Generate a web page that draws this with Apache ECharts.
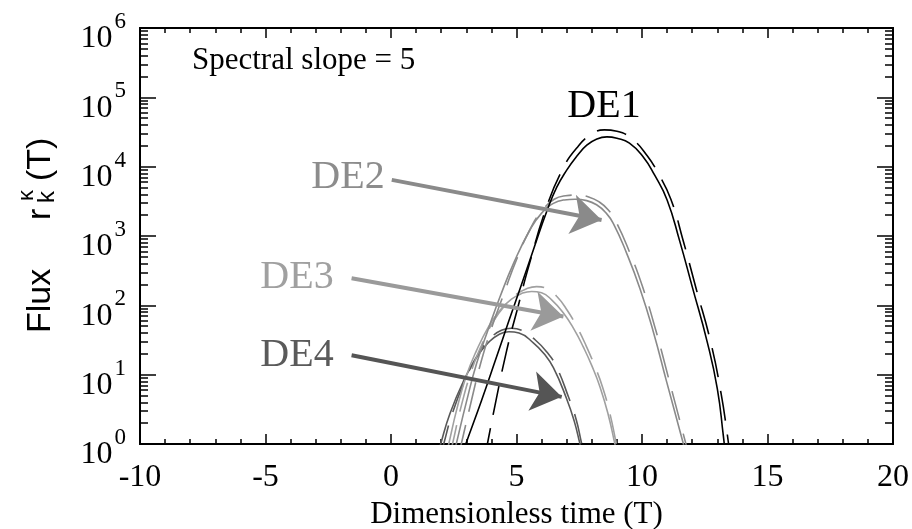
<!DOCTYPE html>
<html>
<head>
<meta charset="utf-8">
<script src="https://cdn.jsdelivr.net/npm/echarts@6/dist/echarts.min.js"></script>
<style>
html,body{margin:0;padding:0;background:#fff;}
#chart{width:912px;height:529px;}
</style>
</head>
<body>
<div id="chart"></div>
<script>
// dimensionless time T and log10(flux), one pair per curve
var tDE1 = [2.80, 2.98, 3.6, 4.2, 4.7, 5.2, 5.7, 6.2, 6.6, 7.0, 7.4, 7.8, 8.2, 8.6, 9.0, 9.5, 10.05, 10.5, 11.0, 11.5, 12.0, 12.6, 13.0, 13.24, 13.32];
var lgDE1 = [-0.19, 0, 0.62, 1.25, 1.78, 2.3, 2.83, 3.35, 3.7, 3.95, 4.15, 4.31, 4.4, 4.43, 4.41, 4.34, 4.14, 3.88, 3.52, 2.93, 2.27, 1.47, 0.8, 0.12, -0.15];
var tDE1d = [3.73, 3.84, 4.14, 4.61, 5.06, 5.5, 6.2, 6.86, 7.4, 8.0, 8.5, 9.0, 9.6, 10.2, 10.65, 11.15, 11.65, 12.15, 12.75, 13.15, 13.39, 13.48];
var lgDE1d = [-0.2, 0, 0.55, 1.35, 1.98, 2.58, 3.42, 3.98, 4.27, 4.47, 4.53, 4.51, 4.40, 4.16, 3.9, 3.53, 2.92, 2.25, 1.45, 0.73, 0.16, -0.1];

var tDE2 = [2.5, 2.6, 3.0, 3.41, 3.9, 4.34, 4.9, 5.54, 6.0, 6.47, 6.9, 7.33, 7.8, 8.19, 8.55, 8.86, 9.39, 9.92, 10.45, 10.98, 11.65, 11.75];
var lgDE2 = [-0.15, 0, 0.6, 1.16, 1.68, 2.12, 2.62, 3.09, 3.33, 3.47, 3.52, 3.53, 3.51, 3.45, 3.34, 3.18, 2.75, 2.24, 1.62, 0.9, 0, -0.14];
var tDE2d = [2.7, 2.8, 3.2, 3.6, 4.05, 4.5, 5.0, 5.6, 6.05, 6.5, 6.95, 7.4, 7.9, 8.3, 8.65, 8.96, 9.49, 10.02, 10.55, 11.08, 11.75, 11.85];
var lgDE2d = [-0.15, 0, 0.62, 1.2, 1.72, 2.17, 2.66, 3.14, 3.38, 3.53, 3.58, 3.59, 3.56, 3.49, 3.38, 3.21, 2.78, 2.27, 1.64, 0.92, 0, -0.14];

var tDE3 = [2.2, 2.3, 2.62, 3.0, 3.41, 3.9, 4.34, 4.8, 5.2, 5.6, 6.0, 6.4, 6.87, 7.3, 7.66, 8.0, 8.33, 8.65, 8.92, 9.0];
var lgDE3 = [-0.15, 0, 0.5, 0.98, 1.35, 1.7, 1.93, 2.09, 2.17, 2.2, 2.18, 2.08, 1.89, 1.65, 1.4, 1.13, 0.82, 0.43, 0, -0.13];
var tDE3d = [2.35, 2.45, 2.8, 3.2, 3.6, 4.1, 4.55, 5.0, 5.4, 5.8, 6.2, 6.6, 7.02, 7.42, 7.77, 8.1, 8.42, 8.72, 8.98, 9.06];
var lgDE3d = [-0.15, 0, 0.55, 1.05, 1.42, 1.78, 2.0, 2.16, 2.24, 2.27, 2.24, 2.13, 1.93, 1.68, 1.42, 1.14, 0.83, 0.44, 0, -0.13];

var tDE4 = [1.88, 1.98, 2.35, 2.88, 3.41, 3.9, 4.3, 4.7, 5.1, 5.67, 6.1, 6.47, 7.0, 7.3, 7.53, 7.6];
var lgDE4 = [-0.15, 0, 0.44, 0.9, 1.25, 1.47, 1.58, 1.62, 1.6, 1.46, 1.3, 1.1, 0.65, 0.33, 0, -0.1];
var tDE4d = [2.0, 2.1, 2.45, 2.95, 3.45, 3.95, 4.4, 4.8, 5.2, 5.75, 6.2, 6.57, 7.08, 7.38, 7.6, 7.68];
var lgDE4d = [-0.15, 0, 0.45, 0.92, 1.28, 1.52, 1.64, 1.67, 1.64, 1.5, 1.33, 1.13, 0.67, 0.35, 0, -0.1];

// arrows: [T, log10 flux] of tail and tip
var arrowDE2 = [[0.03, 3.81], [8.39, 3.23]];
var arrowDE3 = [[-1.57, 2.39], [6.87, 1.84]];
var arrowDE4 = [[-1.57, 1.28], [6.80, 0.68]];

var xTicks = [-10, -5, 0, 5, 10, 15, 20];
var yDecades = [0, 1, 2, 3, 4, 5, 6];

var SERIF = "'Liberation Serif','Times New Roman',serif";
var SANS = "'Liberation Sans',Arial,sans-serif";

var majorY = yDecades.map(function(e){ return Math.pow(10, e); });
var minorY = [];
for (var e = 0; e < yDecades.length - 1; e++) {
    for (var m = 2; m <= 9; m++) minorY.push(m * Math.pow(10, e));
}

function pts(t, lg){
    return t.map(function(v, i){ return [v, Math.pow(10, lg[i])]; });
}
function arrowLine(a, color){
    return {
        silent: true,
        animation: false,
        symbol: ['none', 'arrow'],
        symbolSize: 30,
        label: {show: false},
        lineStyle: {color: color, width: 4, type: 'solid'},
        data: [[
            {coord: [a[0][0], Math.pow(10, a[0][1])]},
            {coord: [a[1][0], Math.pow(10, a[1][1])]}
        ]]
    };
}
function curve(name, t, lg, color, dashed, arrow){
    var s = {
        name: name,
        type: 'line',
        data: pts(t, lg),
        showSymbol: false,
        smooth: 0.5,
        clip: true,
        silent: true,
        lineStyle: {color: color, width: 1.6, type: dashed ? [30, 14] : 'solid'},
        z: 3
    };
    if (arrow) s.markLine = arrow;
    return s;
}

var chart = echarts.init(document.getElementById('chart'));

var xBase = {
    type: 'value', min: -10, max: 20, interval: 5,
    axisLine: {onZero: false, lineStyle: {color: '#000', width: 2}},
    axisTick: {inside: true, length: 10, lineStyle: {color: '#000', width: 1.5}},
    minorTick: {show: true, splitNumber: 5, length: 5, lineStyle: {color: '#000', width: 1.5}},
    splitLine: {show: false}
};
function yAxisDef(pos, ticks, len, labels){
    return {
        type: 'log', logBase: 10, min: 1, max: 1e6, position: pos,
        axisLine: {show: true, onZero: false, lineStyle: {color: '#000', width: 2}},
        axisTick: {show: true, inside: true, length: len, customValues: ticks, lineStyle: {color: '#000', width: 1.5}},
        minorTick: {show: false},
        splitLine: {show: false},
        axisLabel: labels ? {
            show: true, margin: 14, customValues: ticks,
            formatter: function(v){ return '{b|10}{s|' + Math.round(Math.log10(v)) + '}'; },
            rich: {
                b: {fontFamily: SERIF, fontSize: 32, color: '#000', verticalAlign: 'middle', padding: [22, 2, 0, 0]},
                s: {fontFamily: SERIF, fontSize: 23, color: '#000', verticalAlign: 'middle', padding: [0, 0, 12, 0]}
            }
        } : {show: false}
    };
}

var option = {
    backgroundColor: '#fff',
    animation: false,
    grid: {left: 140, right: 19, top: 28, bottom: 85, containLabel: false, outerBoundsMode: 'none'},
    xAxis: [
        Object.assign({}, xBase, {
            position: 'bottom',
            axisLabel: {
                fontFamily: SERIF, fontSize: 32, color: '#000', margin: 18,
                customValues: xTicks,
                showMinLabel: true, showMaxLabel: true
            },
            name: 'Dimensionless time (T)',
            nameLocation: 'middle',
            nameGap: 47,
            nameTextStyle: {fontFamily: SERIF, fontSize: 31, color: '#000'}
        }),
        Object.assign({}, xBase, {position: 'top', axisLabel: {show: false}})
    ],
    yAxis: [
        yAxisDef('left', majorY, 16, true),
        yAxisDef('left', minorY, 8, false),
        yAxisDef('right', majorY, 16, false),
        yAxisDef('right', minorY, 8, false)
    ],
    series: [
        curve('DE4', tDE4, lgDE4, '#585858', false, arrowLine(arrowDE4, '#555555')),
        curve('DE4 dashed', tDE4d, lgDE4d, '#585858', true),
        curve('DE3', tDE3, lgDE3, '#a0a0a0', false, arrowLine(arrowDE3, '#9a9a9a')),
        curve('DE3 dashed', tDE3d, lgDE3d, '#a0a0a0', true),
        curve('DE2', tDE2, lgDE2, '#8a8a8a', false, arrowLine(arrowDE2, '#8a8a8a')),
        curve('DE2 dashed', tDE2d, lgDE2d, '#8a8a8a', true),
        curve('DE1', tDE1, lgDE1, '#000000', false),
        curve('DE1 dashed', tDE1d, lgDE1d, '#000000', true)
    ],
    graphic: [
        {type: 'text', x: 192, y: 61, style: {text: 'Spectral slope = 5', font: '31px ' + SERIF, fill: '#000', textAlign: 'left', textVerticalAlign: 'middle'}},
        {type: 'text', x: 604, y: 106, style: {text: 'DE1', font: '40px ' + SERIF, fill: '#000', textAlign: 'center', textVerticalAlign: 'middle'}},
        {type: 'text', x: 348, y: 177, style: {text: 'DE2', font: '40px ' + SERIF, fill: '#8c8c8c', textAlign: 'center', textVerticalAlign: 'middle'}},
        {type: 'text', x: 297, y: 277, style: {text: 'DE3', font: '40px ' + SERIF, fill: '#a0a0a0', textAlign: 'center', textVerticalAlign: 'middle'}},
        {type: 'text', x: 297, y: 355, style: {text: 'DE4', font: '40px ' + SERIF, fill: '#5a5a5a', textAlign: 'center', textVerticalAlign: 'middle'}},
        {
            type: 'group', x: 53, y: 333, rotation: Math.PI / 2,
            children: [
                {type: 'text', x: 0, y: -12, style: {text: 'Flux', font: '34px ' + SANS, fill: '#000', textAlign: 'left', textVerticalAlign: 'middle'}},
                {type: 'text', x: 113, y: -12, style: {text: 'r', font: '34px ' + SANS, fill: '#000', textAlign: 'left', textVerticalAlign: 'middle'}},
                {type: 'text', x: 130, y: -6, style: {text: 'k', font: '24px ' + SANS, fill: '#000', textAlign: 'left', textVerticalAlign: 'middle'}},
                {type: 'text', x: 132, y: -26, style: {text: 'κ', font: '22px ' + SANS, fill: '#000', textAlign: 'left', textVerticalAlign: 'middle'}},
                {type: 'text', x: 152, y: -12, style: {text: '(T)', font: '34px ' + SANS, fill: '#000', textAlign: 'left', textVerticalAlign: 'middle'}}
            ]
        }
    ]
};
chart.setOption(option);
</script>
</body>
</html>
